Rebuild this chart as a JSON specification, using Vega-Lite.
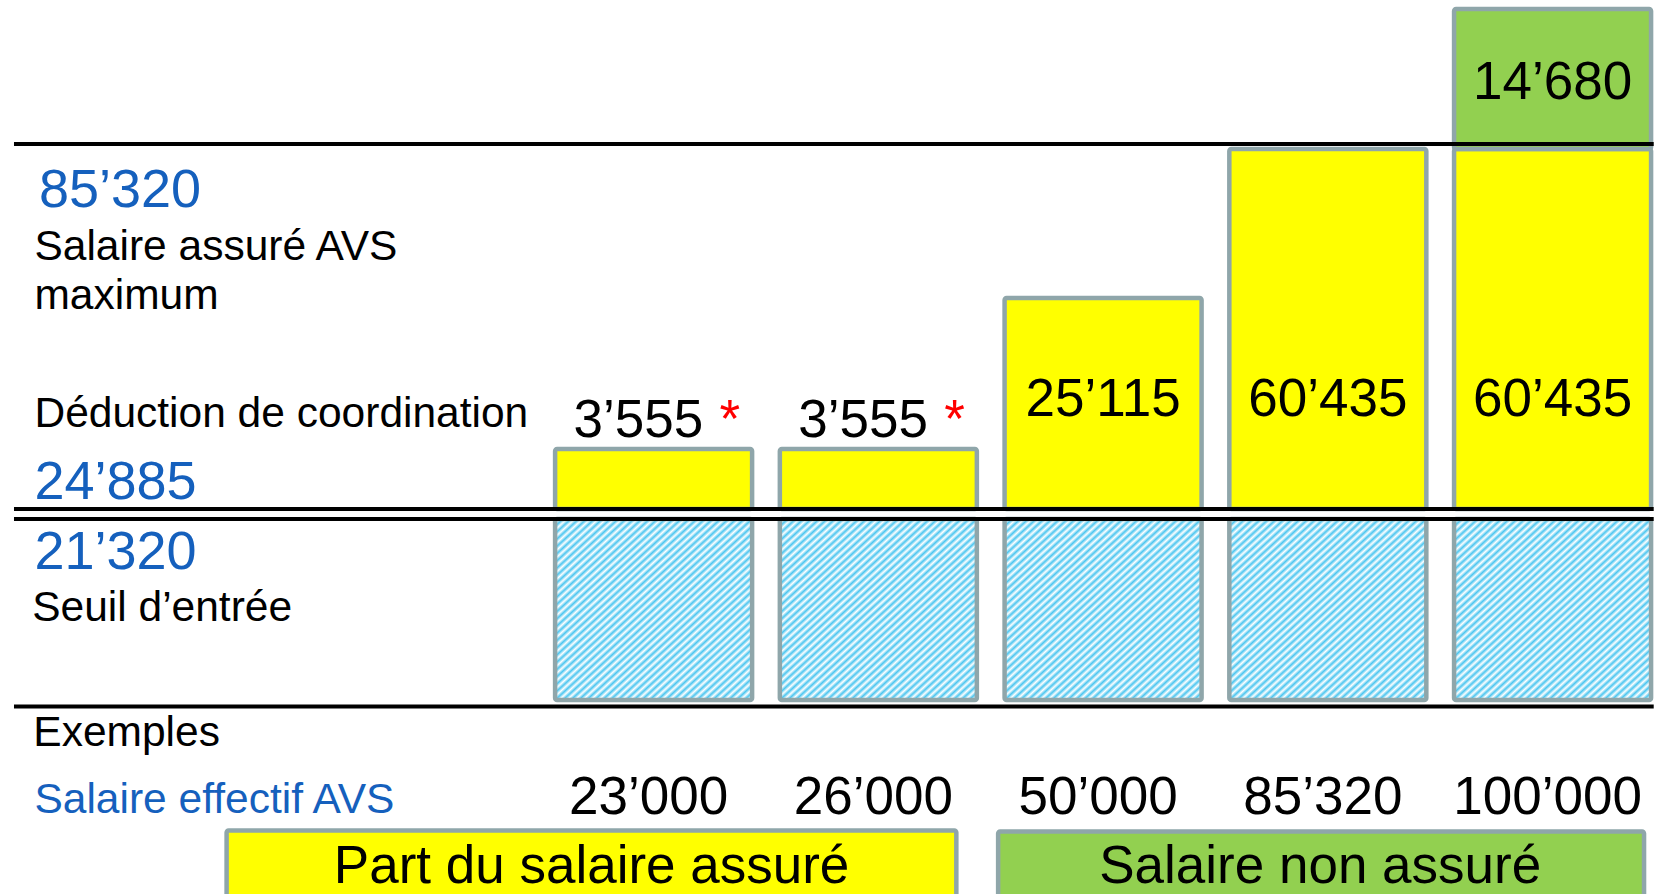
{
  "$schema": "https://vega.github.io/schema/vega-lite/v6.json",
  "width": 1665,
  "height": 894,
  "autosize": "none",
  "padding": 0,
  "background": "white",
  "config": {
    "view": {"stroke": null},
    "axis": {"disable": true},
    "text": {"font": "Liberation Sans"}
  },
  "datasets": {
    "seuil": [
      {"col": 1, "y0": 0, "y1": 21320},
      {"col": 2, "y0": 0, "y1": 21320},
      {"col": 3, "y0": 0, "y1": 21320},
      {"col": 4, "y0": 0, "y1": 21320},
      {"col": 5, "y0": 0, "y1": 21320}
    ],
    "parts": [
      {"col": 1, "part": "assuré", "y0": 24885, "y1": 28440, "valeur": "3’555"},
      {"col": 2, "part": "assuré", "y0": 24885, "y1": 28440, "valeur": "3’555"},
      {"col": 3, "part": "assuré", "y0": 24885, "y1": 50000, "valeur": "25’115"},
      {"col": 4, "part": "assuré", "y0": 24885, "y1": 85320, "valeur": "60’435"},
      {"col": 5, "part": "assuré", "y0": 24885, "y1": 85320, "valeur": "60’435"},
      {"col": 5, "part": "non assuré", "y0": 85320, "y1": 100000, "valeur": "14’680"}
    ],
    "exemples": [
      {"col": 1, "salaire": "23’000"},
      {"col": 2, "salaire": "26’000"},
      {"col": 3, "salaire": "50’000"},
      {"col": 4, "salaire": "85’320"},
      {"col": 5, "salaire": "100’000"}
    ]
  },
  "layer": [
    {
      "data": {"name": "seuil"},
      "mark": {
        "type": "bar",
        "width": 197,
        "stroke": "#8fa6aa",
        "strokeWidth": 4.5,
        "cornerRadius": 2,
        "fill": {
          "gradient": "linear", "x1": 0, "y1": 0, "x2": 1, "y2": 1,
          "stops": [
            {"offset": 0, "color": "#4cc6f0"}, {"offset": 0.01, "color": "#ffffff"},
            {"offset": 0.02, "color": "#4cc6f0"}, {"offset": 0.03, "color": "#ffffff"},
            {"offset": 0.04, "color": "#4cc6f0"}, {"offset": 0.05, "color": "#ffffff"},
            {"offset": 0.06, "color": "#4cc6f0"}, {"offset": 0.07, "color": "#ffffff"},
            {"offset": 0.08, "color": "#4cc6f0"}, {"offset": 0.09, "color": "#ffffff"},
            {"offset": 0.10, "color": "#4cc6f0"}, {"offset": 0.11, "color": "#ffffff"},
            {"offset": 0.12, "color": "#4cc6f0"}, {"offset": 0.13, "color": "#ffffff"},
            {"offset": 0.14, "color": "#4cc6f0"}, {"offset": 0.15, "color": "#ffffff"},
            {"offset": 0.16, "color": "#4cc6f0"}, {"offset": 0.17, "color": "#ffffff"},
            {"offset": 0.18, "color": "#4cc6f0"}, {"offset": 0.19, "color": "#ffffff"},
            {"offset": 0.20, "color": "#4cc6f0"}, {"offset": 0.21, "color": "#ffffff"},
            {"offset": 0.22, "color": "#4cc6f0"}, {"offset": 0.23, "color": "#ffffff"},
            {"offset": 0.24, "color": "#4cc6f0"}, {"offset": 0.25, "color": "#ffffff"},
            {"offset": 0.26, "color": "#4cc6f0"}, {"offset": 0.27, "color": "#ffffff"},
            {"offset": 0.28, "color": "#4cc6f0"}, {"offset": 0.29, "color": "#ffffff"},
            {"offset": 0.30, "color": "#4cc6f0"}, {"offset": 0.31, "color": "#ffffff"},
            {"offset": 0.32, "color": "#4cc6f0"}, {"offset": 0.33, "color": "#ffffff"},
            {"offset": 0.34, "color": "#4cc6f0"}, {"offset": 0.35, "color": "#ffffff"},
            {"offset": 0.36, "color": "#4cc6f0"}, {"offset": 0.37, "color": "#ffffff"},
            {"offset": 0.38, "color": "#4cc6f0"}, {"offset": 0.39, "color": "#ffffff"},
            {"offset": 0.40, "color": "#4cc6f0"}, {"offset": 0.41, "color": "#ffffff"},
            {"offset": 0.42, "color": "#4cc6f0"}, {"offset": 0.43, "color": "#ffffff"},
            {"offset": 0.44, "color": "#4cc6f0"}, {"offset": 0.45, "color": "#ffffff"},
            {"offset": 0.46, "color": "#4cc6f0"}, {"offset": 0.47, "color": "#ffffff"},
            {"offset": 0.48, "color": "#4cc6f0"}, {"offset": 0.49, "color": "#ffffff"},
            {"offset": 0.50, "color": "#4cc6f0"}, {"offset": 0.51, "color": "#ffffff"},
            {"offset": 0.52, "color": "#4cc6f0"}, {"offset": 0.53, "color": "#ffffff"},
            {"offset": 0.54, "color": "#4cc6f0"}, {"offset": 0.55, "color": "#ffffff"},
            {"offset": 0.56, "color": "#4cc6f0"}, {"offset": 0.57, "color": "#ffffff"},
            {"offset": 0.58, "color": "#4cc6f0"}, {"offset": 0.59, "color": "#ffffff"},
            {"offset": 0.60, "color": "#4cc6f0"}, {"offset": 0.61, "color": "#ffffff"},
            {"offset": 0.62, "color": "#4cc6f0"}, {"offset": 0.63, "color": "#ffffff"},
            {"offset": 0.64, "color": "#4cc6f0"}, {"offset": 0.65, "color": "#ffffff"},
            {"offset": 0.66, "color": "#4cc6f0"}, {"offset": 0.67, "color": "#ffffff"},
            {"offset": 0.68, "color": "#4cc6f0"}, {"offset": 0.69, "color": "#ffffff"},
            {"offset": 0.70, "color": "#4cc6f0"}, {"offset": 0.71, "color": "#ffffff"},
            {"offset": 0.72, "color": "#4cc6f0"}, {"offset": 0.73, "color": "#ffffff"},
            {"offset": 0.74, "color": "#4cc6f0"}, {"offset": 0.75, "color": "#ffffff"},
            {"offset": 0.76, "color": "#4cc6f0"}, {"offset": 0.77, "color": "#ffffff"},
            {"offset": 0.78, "color": "#4cc6f0"}, {"offset": 0.79, "color": "#ffffff"},
            {"offset": 0.80, "color": "#4cc6f0"}, {"offset": 0.81, "color": "#ffffff"},
            {"offset": 0.82, "color": "#4cc6f0"}, {"offset": 0.83, "color": "#ffffff"},
            {"offset": 0.84, "color": "#4cc6f0"}, {"offset": 0.85, "color": "#ffffff"},
            {"offset": 0.86, "color": "#4cc6f0"}, {"offset": 0.87, "color": "#ffffff"},
            {"offset": 0.88, "color": "#4cc6f0"}, {"offset": 0.89, "color": "#ffffff"},
            {"offset": 0.90, "color": "#4cc6f0"}, {"offset": 0.91, "color": "#ffffff"},
            {"offset": 0.92, "color": "#4cc6f0"}, {"offset": 0.93, "color": "#ffffff"},
            {"offset": 0.94, "color": "#4cc6f0"}, {"offset": 0.95, "color": "#ffffff"},
            {"offset": 0.96, "color": "#4cc6f0"}, {"offset": 0.97, "color": "#ffffff"},
            {"offset": 0.98, "color": "#4cc6f0"}, {"offset": 0.99, "color": "#ffffff"},
            {"offset": 1, "color": "#4cc6f0"}
          ]
        }
      },
      "encoding": {
        "x": {"field": "col", "type": "quantitative", "axis": null,
              "scale": {"domain": [-1.886, 5.478], "nice": false, "zero": false}},
        "y": {"field": "y0", "type": "quantitative", "axis": null,
              "scale": {"domain": [0, 21320, 24885, 28440, 50000, 85320, 100000],
                        "range": [700, 519, 509, 449, 298, 149, 9],
                        "nice": false, "zero": false}},
        "y2": {"field": "y1"}
      }
    },
    {
      "data": {"name": "parts"},
      "mark": {"type": "bar", "width": 197, "stroke": "#8fa6aa", "strokeWidth": 4.5, "cornerRadius": 2},
      "encoding": {
        "x": {"field": "col", "type": "quantitative"},
        "y": {"field": "y0", "type": "quantitative"},
        "y2": {"field": "y1"},
        "fill": {"field": "part", "type": "nominal", "legend": null,
                 "scale": {"domain": ["assuré", "non assuré"], "range": ["#ffff00", "#92d050"]}}
      }
    },
    {
      "data": {"values": [{"niveau": 24885}, {"niveau": 21320}]},
      "mark": {"type": "rule", "strokeWidth": 4, "color": "#000000"},
      "encoding": {
        "y": {"field": "niveau", "type": "quantitative"},
        "x": {"datum": -1.846},
        "x2": {"datum": 5.45}
      }
    },
    {
      "data": {"values": [{"niveau": 85320}]},
      "mark": {"type": "rule", "strokeWidth": 4, "color": "#000000", "yOffset": -5},
      "encoding": {
        "y": {"field": "niveau", "type": "quantitative"},
        "x": {"datum": -1.846},
        "x2": {"datum": 5.45}
      }
    },
    {
      "data": {"values": [{"niveau": 0}]},
      "mark": {"type": "rule", "strokeWidth": 4, "color": "#000000", "yOffset": 6.5},
      "encoding": {
        "y": {"field": "niveau", "type": "quantitative"},
        "x": {"datum": -1.846},
        "x2": {"datum": 5.45}
      }
    },
    {
      "data": {"values": [{"texte": "85’320", "niveau": 85320}]},
      "mark": {"type": "text", "align": "left", "baseline": "alphabetic", "dy": 58, "fontSize": 54, "color": "#1560bd"},
      "encoding": {"x": {"datum": -1.735}, "y": {"field": "niveau", "type": "quantitative"}, "text": {"field": "texte"}}
    },
    {
      "data": {"values": [{"texte": ["Salaire assuré AVS", "maximum"], "niveau": 85320}]},
      "mark": {"type": "text", "align": "left", "baseline": "alphabetic", "dy": 111, "lineHeight": 49, "fontSize": 42.5, "color": "#000000"},
      "encoding": {"x": {"datum": -1.755}, "y": {"field": "niveau", "type": "quantitative"}, "text": {"field": "texte"}}
    },
    {
      "data": {"values": [{"texte": "Déduction de coordination", "niveau": 24885}]},
      "mark": {"type": "text", "align": "left", "baseline": "alphabetic", "dy": -82, "fontSize": 42.5, "color": "#000000"},
      "encoding": {"x": {"datum": -1.755}, "y": {"field": "niveau", "type": "quantitative"}, "text": {"field": "texte"}}
    },
    {
      "data": {"values": [{"texte": "24’885", "niveau": 24885}]},
      "mark": {"type": "text", "align": "left", "baseline": "alphabetic", "dy": -10, "fontSize": 54, "color": "#1560bd"},
      "encoding": {"x": {"datum": -1.755}, "y": {"field": "niveau", "type": "quantitative"}, "text": {"field": "texte"}}
    },
    {
      "data": {"values": [{"texte": "21’320", "niveau": 21320}]},
      "mark": {"type": "text", "align": "left", "baseline": "alphabetic", "dy": 50, "fontSize": 54, "color": "#1560bd"},
      "encoding": {"x": {"datum": -1.755}, "y": {"field": "niveau", "type": "quantitative"}, "text": {"field": "texte"}}
    },
    {
      "data": {"values": [{"texte": "Seuil d’entrée", "niveau": 21320}]},
      "mark": {"type": "text", "align": "left", "baseline": "alphabetic", "dy": 102, "fontSize": 42.5, "color": "#000000"},
      "encoding": {"x": {"datum": -1.765}, "y": {"field": "niveau", "type": "quantitative"}, "text": {"field": "texte"}}
    },
    {
      "data": {"values": [{"texte": "Exemples", "niveau": 0}]},
      "mark": {"type": "text", "align": "left", "baseline": "alphabetic", "dy": 46, "fontSize": 42.5, "color": "#000000"},
      "encoding": {"x": {"datum": -1.76}, "y": {"field": "niveau", "type": "quantitative"}, "text": {"field": "texte"}}
    },
    {
      "data": {"values": [{"texte": "Salaire effectif AVS", "niveau": 0}]},
      "mark": {"type": "text", "align": "left", "baseline": "alphabetic", "dy": 113, "fontSize": 42.5, "color": "#1560bd"},
      "encoding": {"x": {"datum": -1.755}, "y": {"field": "niveau", "type": "quantitative"}, "text": {"field": "texte"}}
    },
    {
      "data": {"name": "exemples"},
      "mark": {"type": "text", "align": "center", "baseline": "alphabetic", "dy": 114, "dx": -5, "fontSize": 53, "color": "#000000"},
      "encoding": {"x": {"field": "col", "type": "quantitative"}, "y": {"datum": 0}, "text": {"field": "salaire"}}
    },
    {
      "data": {"name": "parts"},
      "transform": [{"filter": "datum.part === 'assuré' && datum.y1 >= 50000"}],
      "mark": {"type": "text", "align": "center", "baseline": "alphabetic", "dy": -93, "fontSize": 53, "color": "#000000"},
      "encoding": {"x": {"field": "col", "type": "quantitative"}, "y": {"datum": 24885}, "text": {"field": "valeur"}}
    },
    {
      "data": {"name": "parts"},
      "transform": [{"filter": "datum.y1 < 30000"}],
      "mark": {"type": "text", "align": "left", "baseline": "alphabetic", "dy": -12, "dx": -80, "fontSize": 53, "color": "#000000"},
      "encoding": {"x": {"field": "col", "type": "quantitative"}, "y": {"field": "y1", "type": "quantitative"}, "text": {"field": "valeur"}}
    },
    {
      "data": {"name": "parts"},
      "transform": [{"filter": "datum.y1 < 30000"}],
      "mark": {"type": "text", "align": "left", "baseline": "alphabetic", "dy": -12, "dx": 66, "fontSize": 53, "color": "#ff0000"},
      "encoding": {"x": {"field": "col", "type": "quantitative"}, "y": {"field": "y1", "type": "quantitative"}, "text": {"value": "*"}}
    },
    {
      "data": {"name": "parts"},
      "transform": [{"filter": "datum.part === 'non assuré'"}],
      "mark": {"type": "text", "align": "center", "baseline": "alphabetic", "dy": 90, "fontSize": 53, "color": "#000000"},
      "encoding": {"x": {"field": "col", "type": "quantitative"}, "y": {"field": "y1", "type": "quantitative"}, "text": {"field": "valeur"}}
    },
    {
      "data": {"values": [{"libelle": "Part du salaire assuré", "part": "assuré"}]},
      "layer": [
        {
          "mark": {"type": "rect", "yOffset": 130.5, "y2Offset": 240, "stroke": "#8fa6aa", "strokeWidth": 4.5, "cornerRadius": 2},
          "encoding": {"x": {"datum": -0.9}, "x2": {"datum": 2.347}, "y": {"datum": 0}, "y2": {"datum": 0},
                       "fill": {"field": "part", "type": "nominal", "legend": null}}
        },
        {
          "mark": {"type": "text", "align": "center", "baseline": "alphabetic", "dy": 183, "fontSize": 53, "color": "#000000"},
          "encoding": {"x": {"datum": 0.724}, "y": {"datum": 0}, "text": {"field": "libelle"}}
        }
      ]
    },
    {
      "data": {"values": [{"libelle": "Salaire non assuré", "part": "non assuré"}]},
      "layer": [
        {
          "mark": {"type": "rect", "yOffset": 131.5, "y2Offset": 240, "stroke": "#8fa6aa", "strokeWidth": 4.5, "cornerRadius": 2},
          "encoding": {"x": {"datum": 2.533}, "x2": {"datum": 5.407}, "y": {"datum": 0}, "y2": {"datum": 0},
                       "fill": {"field": "part", "type": "nominal", "legend": null}}
        },
        {
          "mark": {"type": "text", "align": "center", "baseline": "alphabetic", "dy": 183, "fontSize": 53, "color": "#000000"},
          "encoding": {"x": {"datum": 3.966}, "y": {"datum": 0}, "text": {"field": "libelle"}}
        }
      ]
    }
  ]
}
